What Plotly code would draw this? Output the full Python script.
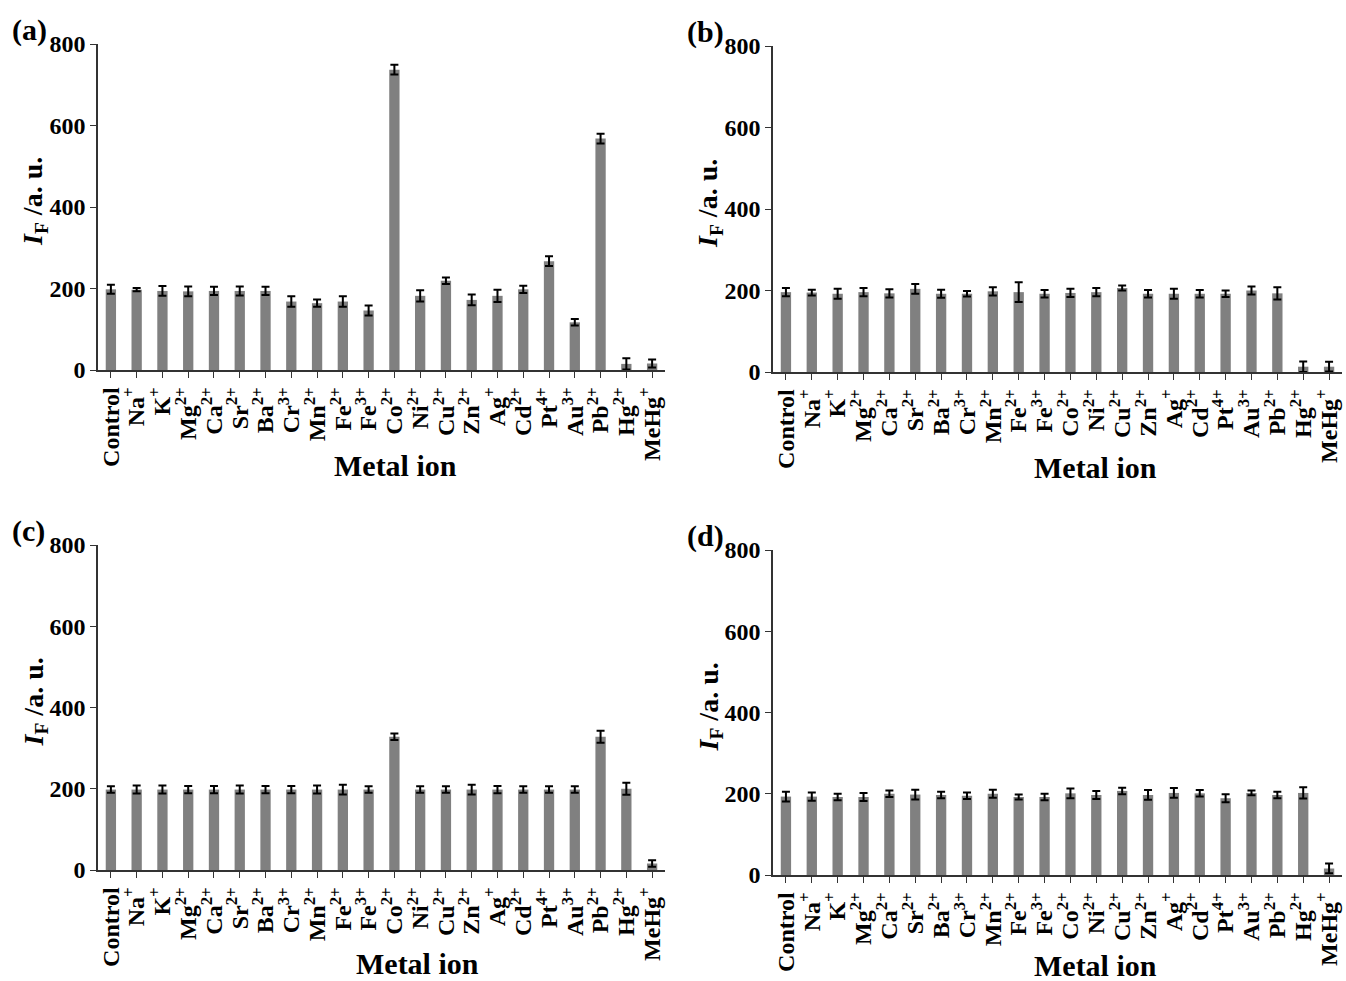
import plotly.graph_objects as go

# Metal ions tested (tick labels)
ions = ["Control", "Na<sup>+</sup>", "K<sup>+</sup>", "Mg<sup>2+</sup>", "Ca<sup>2+</sup>",
        "Sr<sup>2+</sup>", "Ba<sup>2+</sup>", "Cr<sup>3+</sup>", "Mn<sup>2+</sup>",
        "Fe<sup>2+</sup>", "Fe<sup>3+</sup>", "Co<sup>2+</sup>", "Ni<sup>2+</sup>",
        "Cu<sup>2+</sup>", "Zn<sup>2+</sup>", "Ag<sup>+</sup>", "Cd<sup>2+</sup>",
        "Pt<sup>4+</sup>", "Au<sup>3+</sup>", "Pb<sup>2+</sup>", "Hg<sup>2+</sup>",
        "MeHg<sup>+</sup>"]

# Fluorescence intensity (a.u.) and standard deviations for each panel
a_vals = [198, 197, 194, 193, 194, 194, 194, 168, 164, 168, 146, 737, 182, 219, 172, 182, 198, 267, 117, 568, 15, 16]
a_errs = [11, 4, 12, 12, 10, 11, 10, 13, 9, 13, 12, 12, 14, 8, 13, 15, 9, 12, 8, 12, 14, 10]

b_vals = [196, 195, 192, 196, 193, 204, 192, 192, 198, 196, 192, 194, 196, 206, 192, 192, 192, 192, 200, 193, 13, 13]
b_errs = [10, 7, 12, 10, 10, 12, 10, 7, 10, 24, 9, 10, 10, 6, 9, 12, 9, 8, 10, 15, 13, 12]

c_vals = [198, 198, 198, 198, 198, 198, 198, 198, 198, 198, 198, 328, 198, 198, 198, 198, 198, 198, 198, 328, 200, 16]
c_errs = [8, 10, 10, 9, 9, 10, 9, 9, 10, 12, 8, 8, 8, 8, 12, 9, 8, 8, 8, 15, 15, 8]

d_vals = [193, 193, 192, 192, 200, 198, 197, 195, 200, 192, 192, 201, 197, 207, 197, 202, 201, 189, 202, 197, 202, 16]
d_errs = [12, 10, 8, 10, 8, 12, 8, 8, 10, 6, 8, 12, 10, 8, 12, 12, 8, 10, 6, 8, 14, 12]

panels = [("(a)", a_vals, a_errs), ("(b)", b_vals, b_errs),
          ("(c)", c_vals, c_errs), ("(d)", d_vals, d_errs)]

W, H = 1346, 981
FONT = "Liberation Serif"

# plot-area rectangles in pixels: (left, right, top, bottom)
boxes = [(98, 665, 44, 370), (773, 1342, 46, 372),
         (98, 665, 545, 870), (773, 1342, 550, 875)]
# centre of each "Metal ion" title, in pixels
xtitle_pos = [(395, 465), (1095, 467), (417, 963), (1095, 965)]

fig = go.Figure()
layout = dict(width=W, height=H, margin=dict(l=0, r=0, t=0, b=0, autoexpand=False),
              paper_bgcolor="white", plot_bgcolor="white",
              showlegend=False, bargap=0.6, annotations=[])

for i, ((label, vals, errs), (l, r, t, b)) in enumerate(zip(panels, boxes)):
    n = "" if i == 0 else str(i + 1)
    fig.add_trace(go.Bar(
        x=list(range(len(ions))), y=vals,
        marker=dict(color="#808080", line=dict(width=0)),
        error_y=dict(type="data", array=errs, visible=True,
                     color="black", thickness=2, width=4),
        xaxis="x" + n, yaxis="y" + n,
    ))
    layout["xaxis" + n] = dict(
        domain=[l / W, r / W], anchor="y" + n, automargin=False,
        tickmode="array", tickvals=list(range(len(ions))), ticktext=ions,
        range=[-0.5, len(ions) - 0.5],
        tickangle=-90, tickson="boundaries", ticks="outside", ticklen=6,
        tickcolor="#333", showline=True, linecolor="#333", linewidth=1.5,
        showgrid=False, zeroline=False,
        tickfont=dict(family=FONT, size=24, color="black", weight="bold"),
    )
    layout["yaxis" + n] = dict(
        domain=[1 - b / H, 1 - t / H], anchor="x" + n, automargin=False,
        range=[0, 800], tickvals=[0, 200, 400, 600, 800],
        ticks="outside", ticklen=6, tickcolor="#333",
        showline=True, linecolor="#333", linewidth=1.5,
        showgrid=False, zeroline=False,
        tickfont=dict(family=FONT, size=24, color="black", weight="bold"),
    )
    # panel letter
    layout["annotations"].append(dict(
        text="<b>%s</b>" % label, xref="paper", yref="paper",
        x=(l - 88) / W, y=1 - (t - 14) / H, xanchor="left", yanchor="middle",
        showarrow=False, font=dict(family=FONT, size=30, color="black")))
    # y-axis title
    layout["annotations"].append(dict(
        text="<b><i>I</i><sub>F</sub> /a. u.</b>", xref="paper", yref="paper",
        x=(l - 63) / W, y=1 - ((t + b) / 2 - 5) / H, textangle=-90,
        xanchor="center", yanchor="middle", showarrow=False,
        font=dict(family=FONT, size=28, color="black")))
    # x-axis title
    tx, ty = xtitle_pos[i]
    layout["annotations"].append(dict(
        text="<b>Metal ion</b>", xref="paper", yref="paper",
        x=tx / W, y=1 - ty / H, xanchor="center", yanchor="middle",
        showarrow=False, font=dict(family=FONT, size=30, color="black")))

fig.update_layout(**layout)
fig.write_html("out.html")
